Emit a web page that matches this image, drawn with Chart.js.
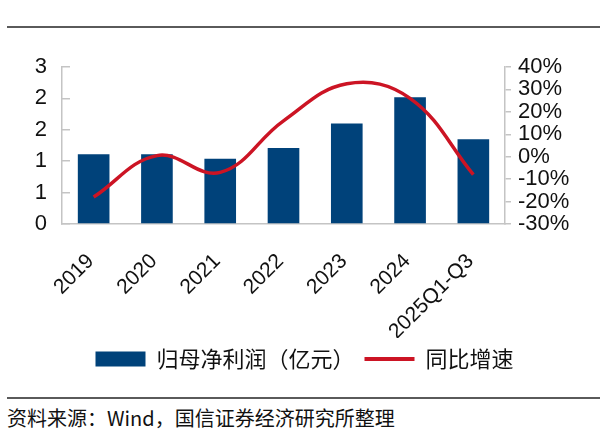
<!DOCTYPE html>
<html><head><meta charset="utf-8">
<script src="https://cdn.jsdelivr.net/npm/chart.js@4.4.1/dist/chart.umd.min.js"></script>
<style>
html,body{margin:0;padding:0;width:609px;height:435px;background:#fff;overflow:hidden}
#wrap{position:absolute;left:0;top:0;width:609px;height:390px}
.rule{position:absolute;left:7px;width:593px;height:2px;background:#5a5a5a}
#src{position:absolute;left:7px;top:405px;font-size:20px;font-family:"Noto Sans CJK SC";color:#111;white-space:nowrap;line-height:26px}
</style></head>
<body>
<div class="rule" style="top:26px"></div>
<div id="wrap"><canvas id="c"></canvas></div>
<div class="rule" style="top:397px"></div>
<div id="src">资料来源：Wind，国信证券经济研究所整理</div>
<script>
const categories = ['2019','2020','2021','2022','2023','2024','2025Q1-Q3'];
const profit = [1.11, 1.11, 1.04, 1.21, 1.60, 2.02, 1.35];
const growth = [-18, 0.5, -7, 16, 32.5, 26, -8];
const seriesNames = ['归母净利润（亿元）', '同比增速'];
const leftRange = [0, 2.5, 0.5];
const rightRange = [-30, 40, 10];

const barColor = '#00427a';
const lineColor = '#cc1424';
const axisColor = '#c4c4c4';
const axisFont = {family: '"Liberation Sans", Arial, sans-serif', size: 22};

new Chart(document.getElementById('c'), {
  type: 'bar',
  data: {
    labels: categories,
    datasets: [
      {type: 'bar', label: seriesNames[0], data: profit, backgroundColor: barColor, yAxisID: 'y', order: 2,
       categoryPercentage: 1, barPercentage: 0.5},
      {type: 'line', label: seriesNames[1], data: growth, borderColor: lineColor, backgroundColor: lineColor,
       borderWidth: 3.5, pointRadius: 0, tension: 0.4, yAxisID: 'y1', order: 1}
    ]
  },
  options: {
    responsive: true, maintainAspectRatio: false, animation: false,
    layout: {padding: {top: 67, left: 0, right: 0, bottom: 10}},
    plugins: {
      tooltip: {enabled: false},
      legend: {
        position: 'bottom',
        labels: {
          usePointStyle: true, pointStyleWidth: 50, boxHeight: 15, padding: 10,
          color: '#111', font: {family: '"Noto Sans CJK SC"', size: 22},
          generateLabels: (chart) => chart.data.datasets.map((ds, i) => ({
            text: ds.label, datasetIndex: i,
            fillStyle: ds.type === 'bar' ? barColor : lineColor,
            strokeStyle: ds.type === 'bar' ? barColor : lineColor,
            lineWidth: ds.type === 'bar' ? 0 : 4,
            pointStyle: ds.type === 'bar' ? 'rect' : 'line',
            hidden: false, fontColor: '#111'
          }))
        }
      }
    },
    scales: {
      x: {
        grid: {display: true, drawOnChartArea: false, drawTicks: false},
        border: {color: axisColor, width: 1.5},
        ticks: {color: '#111', font: {family: axisFont.family, size: 21}, minRotation: 45, maxRotation: 45,
                padding: 25, labelOffset: -3, autoSkip: false},
        afterFit: (s) => { s.height = 114; }
      },
      y: {
        position: 'left', min: leftRange[0], max: leftRange[1],
        grid: {drawOnChartArea: false, drawTicks: true, tickLength: -8, color: axisColor, lineWidth: 1.5},
        border: {color: axisColor, width: 1.5},
        ticks: {stepSize: leftRange[2], autoSkip: false, color: '#111', font: axisFont, padding: 23,
                callback: (v) => String(Math.round(v))},
        afterFit: (s) => { s.width = 62; }
      },
      y1: {
        position: 'right', min: rightRange[0], max: rightRange[1],
        grid: {drawOnChartArea: false, drawTicks: true, tickLength: 6, color: axisColor, lineWidth: 1.5},
        border: {color: axisColor, width: 1.5},
        ticks: {stepSize: rightRange[2], autoSkip: false, color: '#111', font: axisFont, padding: 7,
                callback: (v) => v + '%'},
        afterFit: (s) => { s.width = 104; }
      }
    }
  }
});
</script>
</body></html>
